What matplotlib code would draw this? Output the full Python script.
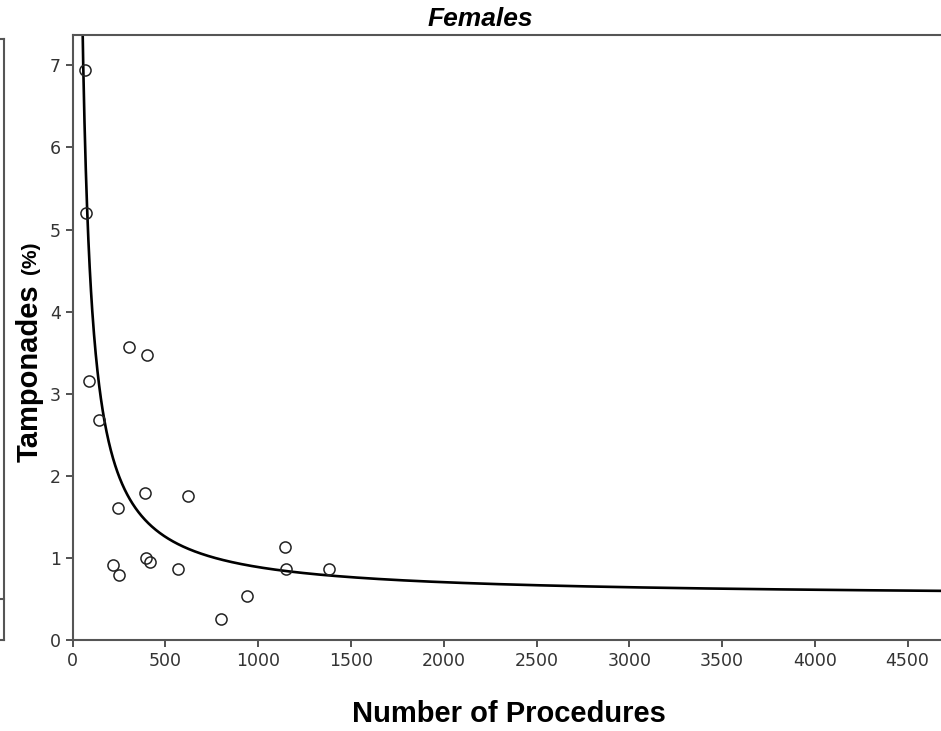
"""Females: tamponade rate vs number of procedures, with inverse curve fit."""
import numpy as np
import matplotlib
matplotlib.use("Agg")
import matplotlib.pyplot as plt
from matplotlib.lines import Line2D

procedures = [66, 72, 88, 142, 304, 401, 390, 244, 620, 217, 250, 395,
              417, 568, 800, 940, 1142, 1150, 1380]
tamponades = [6.94, 5.20, 3.15, 2.68, 3.57, 3.47, 1.79, 1.61, 1.76, 0.91,
              0.79, 1.00, 0.95, 0.87, 0.25, 0.53, 1.13, 0.86, 0.86]

# inverse model y = a + b / x
fit_a = 0.52
fit_b = 368.0

x_ticks = [0, 500, 1000, 1500, 2000, 2500, 3000, 3500, 4000, 4500]
y_ticks = [0, 1, 2, 3, 4, 5, 6, 7]

W, H = 941, 731
fig = plt.figure(figsize=(W / 100, H / 100), dpi=100)
ax = fig.add_axes([72.7 / W, 1 - 640 / H, 1 - 72.7 / W, (640 - 35) / H])

spine_col = "#555555"
xs = np.linspace(45, 4700, 2000)
ax.plot(xs, fit_a + fit_b / xs, color="black", lw=1.9, zorder=2)
ax.plot(procedures, tamponades, "o", ms=8, mfc="none", mec="#222222",
        mew=1.1, zorder=3)

ax.set_xlim(0, 4680)
ax.set_ylim(0, 7.37)
ax.set_xticks(x_ticks)
ax.set_yticks(y_ticks)
ax.tick_params(direction="out", length=5, width=1.2, color="#333333",
               labelsize=12.5, labelcolor="#333333")
for s in ("left", "bottom", "top"):
    ax.spines[s].set_color(spine_col)
    ax.spines[s].set_linewidth(1.5)
ax.spines["right"].set_visible(False)

fig.text(480 / W, 1 - 19 / H, "Females", ha="center", va="center",
         family="Liberation Sans", weight="bold", style="italic", fontsize=19)
fig.text(509 / W, 1 - 714 / H, "Number of Procedures", ha="center", va="center",
         family="Liberation Sans", weight="bold", fontsize=21)
fig.text(30 / W, 1 - 373 / H, "Tamponades", ha="center", va="center",
         rotation=90, family="Liberation Sans", weight="bold", fontsize=21)
fig.text(31 / W, 1 - 258 / H, "(%)", ha="center", va="center",
         rotation=90, family="Liberation Sans", weight="bold", fontsize=15)

# edge of the neighbouring panel on the left
def fline(x0, y0, x1, y1):
    fig.add_artist(Line2D([x0 / W, x1 / W], [1 - y0 / H, 1 - y1 / H],
                          color=spine_col, lw=1.5, transform=fig.transFigure))

fline(4, 39, 4, 640)
fline(0, 39, 4, 39)
fline(0, 640, 4, 640)
fline(0, 599, 4, 599)

fig.savefig("out.png", dpi=100)
